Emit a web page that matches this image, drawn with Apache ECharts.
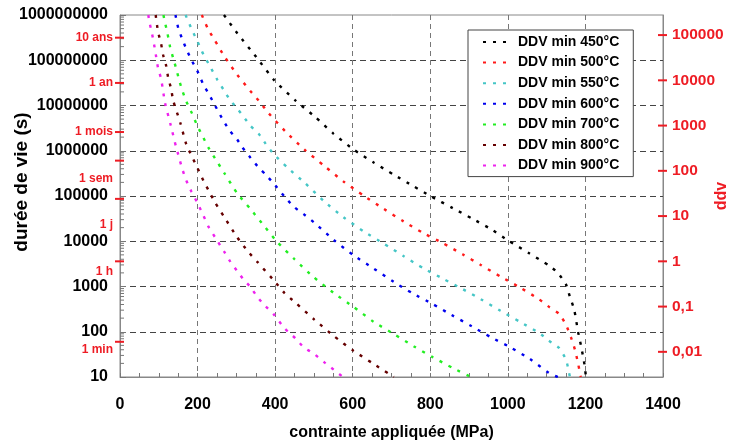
<!DOCTYPE html>
<html><head><meta charset="utf-8">
<script src="https://cdn.jsdelivr.net/npm/echarts@6/dist/echarts.min.js"></script>
<style>html,body{margin:0;padding:0;background:#fff}#c{width:729px;height:441px}</style>
</head><body><div id="c"></div>
<script>
// ---------- data ----------
const seriesNames = ['DDV min 450°C','DDV min 500°C','DDV min 550°C','DDV min 600°C','DDV min 700°C','DDV min 800°C','DDV min 900°C'];

const stress450 = [268,302,354,398,452,504,550,602,654,706,756,800,858,910,956,1002,1054,1106,1129,1150,1160,1171,1181,1188,1194,1199,1201];
const life450   = [1e9,4.0e8,1.1e8,3.6e7,1.3e7,5.5e6,2.4e6,1.07e6,5.5e5,2.95e5,1.66e5,1.0e5,5.4e4,3.1e4,1.86e4,1.02e4,5.5e3,2.9e3,2.0e3,1.1e3,590,310,100,52,28,16,10];

const stress500 = [211,227,245,268,302,336,357,383,426,475,527,576,628,680,731,783,832,884,930,981,1031,1080,1106,1132,1150,1163,1173,1181,1188];
const life500   = [1e9,4.9e8,2.7e8,1.26e8,4.8e7,2.1e7,1.3e7,6.8e6,2.7e6,1.07e6,4.6e5,2.1e5,1.02e5,5.2e4,2.75e4,1.5e4,9.1e3,5.1e3,3.0e3,1.66e3,955,525,355,250,141,74,40,20,10];

const stress550 = [169,186,199,215,230,251,269,284,302,336,357,375,396,431,478,525,576,628,680,731,783,832,884,930,981,1031,1080,1106,1132,1150,1158,1160];
const life550   = [1e9,4.6e8,2.7e8,1.35e8,7.9e7,3.7e7,2.1e7,1.3e7,8.7e6,3.6e6,2.4e6,1.45e6,8.5e5,4.3e5,1.9e5,7.8e4,3.4e4,1.66e4,8.9e3,4.7e3,2.5e3,1.5e3,870,525,290,166,95,63,44,24,12.3,10];

const stress600 = [143,150,160,171,184,199,215,230,245,266,284,302,315,336,357,375,396,426,450,478,504,551,602,654,706,754,806,855,907,956,1005,1057,1106,1129];
const life600   = [1e9,5.2e8,3.0e8,1.78e8,1.02e8,5.9e7,2.9e7,1.74e7,1.0e7,4.7e6,2.7e6,1.78e6,1.2e6,7.1e5,4.3e5,3.0e5,1.9e5,9.3e4,5.6e4,3.7e4,2.45e4,1.07e4,4.9e3,2.5e3,1.26e3,710,410,234,132,76,46,25,12.3,10];

const stress700 = [112,116,122,129,137,145,153,161,171,186,199,215,228,245,269,302,336,375,406,450,499,551,602,654,706,757,806,858,905];
const life700   = [1e9,6.8e8,4.1e8,2.0e8,1.12e8,6.5e7,3.5e7,2.1e7,1.23e7,6.6e6,3.6e6,1.95e6,1.17e6,6.8e5,3.2e5,1.15e5,5.2e4,2.0e4,9.5e3,4.0e3,1.62e3,720,355,166,89,48,27.5,15.8,10];

const stress800 = [92,98,106,111,119,124,132,137,156,171,184,199,215,228,245,269,302,331,354,393,424,450,501,551,602,654,706];
const life800   = [1e9,4.3e8,2.3e8,1.32e8,7.6e7,4.2e7,2.3e7,1.3e7,4.0e6,1.38e6,7.9e5,4.3e5,2.2e5,1.35e5,7.2e4,3.4e4,1.23e4,5.8e3,3.5e3,1.48e3,720,457,186,81,38,19.5,10];

const stress900 = [73,76,82,88,93,98,106,111,116,131,145,150,160,171,184,199,215,228,245,269,284,302,318,336,354,372,396,424,452,473,501,527,551,575];
const life900   = [1e9,6.9e8,4.1e8,2.2e8,1.23e8,6.8e7,3.9e7,2.1e7,1.15e7,3.6e6,1.17e6,8.3e5,4.1e5,2.2e5,1.26e5,7.2e4,3.7e4,2.1e4,1.23e4,5.8e3,3.6e3,2.2e3,1.45e3,980,590,390,245,120,72,46,32,21,14.5,10];

const xTickLabels = [0,200,400,600,800,1000,1200,1400];
const yDecades = [10,100,1000,10000,100000,1000000,10000000,100000000];
const yMinorMultipliers = [2,3,4,5,6,7,8,9];
const timeMarkLabels  = ['10 ans','1 an','1 mois','1 sem','1 j','1 h','1 min'];
const timeMarkSeconds = [315360000,31536000,2592000,604800,86400,3600,60];
const ddvTickValues = [100000,10000,1000,100,10,1,0.1,0.01];
const ddvTickLabels = ['100000','10000','1000','100','10','1','0,1','0,01'];

// ---------- styles ----------
const FONT = '"Liberation Sans", Arial, Helvetica, sans-serif';
const RED = '#ee1c24';
const seriesColors = ['#000000','#ff1a1a','#45c6c6','#0000ee','#22ee22','#660000','#ee22ee'];
const timeMarkLabelShift = [0,0,0,18,26,10,8];

const stressData = [stress450,stress500,stress550,stress600,stress700,stress800,stress900];
const lifeData = [life450,life500,life550,life600,life700,life800,life900];

const lineSeries = seriesNames.map((name,i)=>({
  name, type:'line',
  data: stressData[i].map((x,j)=>[x, lifeData[i][j]]),
  symbol:'none', showSymbol:false, smooth:0.2,
  lineStyle:{color:seriesColors[i], width:2.4, type:[3,7], cap:'butt'},
  itemStyle:{color:seriesColors[i]},
  z:3
}));

const minorTickValues = [];
yDecades.forEach(d=>yMinorMultipliers.forEach(m=>minorTickValues.push([0, d*m])));

const leftMinorTicks = {
  type:'custom', coordinateSystem:'cartesian2d', xAxisIndex:0, yAxisIndex:0, silent:true, z:9,
  data: minorTickValues,
  renderItem:(params, api)=>{
    const p = api.coord([api.value(0), api.value(1)]);
    return {type:'line', shape:{x1:p[0], y1:p[1], x2:p[0]+4, y2:p[1]}, style:{stroke:'#777', lineWidth:1}};
  }
};

const leftMarks = {
  type:'custom', coordinateSystem:'cartesian2d', xAxisIndex:0, yAxisIndex:0, silent:true, z:10,
  data: timeMarkSeconds.map(s=>[0,s]),
  renderItem:(params, api)=>{
    const p = api.coord([api.value(0), api.value(1)]);
    const i = params.dataIndex;
    return {type:'group', children:[
      {type:'line', shape:{x1:p[0]-5, y1:p[1], x2:p[0]+4, y2:p[1]}, style:{stroke:RED, lineWidth:2}},
      {type:'text', x:p[0]-7, y:p[1]+timeMarkLabelShift[i], style:{text:timeMarkLabels[i], fill:RED, font:'bold 12px '+FONT, align:'right', verticalAlign:'middle'}}
    ]};
  }
};
const rightMarks = {
  type:'custom', coordinateSystem:'cartesian2d', xAxisIndex:0, yAxisIndex:1, silent:true, z:10,
  data: ddvTickValues.map(v=>[1400,v]),
  renderItem:(params, api)=>{
    const p = api.coord([api.value(0), api.value(1)]);
    const i = params.dataIndex;
    return {type:'group', children:[
      {type:'line', shape:{x1:p[0]-5, y1:p[1], x2:p[0]+4, y2:p[1]}, style:{stroke:RED, lineWidth:2}},
      {type:'text', x:p[0]+9, y:p[1], style:{text:ddvTickLabels[i], fill:RED, font:'bold 15.5px '+FONT, align:'left', verticalAlign:'middle'}}
    ]};
  }
};

const chart = echarts.init(document.getElementById('c'), null, {renderer:'canvas'});
chart.setOption({
  animation:false,
  backgroundColor:'#fff',
  grid:{left:120, right:66, top:15, bottom:64, show:true, borderColor:'#888', borderWidth:1,
        backgroundColor:'transparent', containLabel:false, outerBoundsMode:'none'},
  legend:{
    data:seriesNames, orient:'vertical', left:468, top:30,
    padding:[5,14,4,14], itemGap:6.6, itemWidth:30, itemHeight:14,
    borderColor:'#444', borderWidth:1, backgroundColor:'#fff',
    itemStyle:{opacity:0},
    textStyle:{fontFamily:FONT, fontWeight:'bold', fontSize:14, color:'#000'}
  },
  xAxis:{
    type:'value', min:0, max:1400, interval:200,
    name:'contrainte appliquée (MPa)', nameLocation:'middle', nameGap:48, nameMoveOverlap:false,
    nameTextStyle:{fontFamily:FONT, fontWeight:'bold', fontSize:16, color:'#000'},
    axisLine:{show:true, onZero:false, lineStyle:{color:'#888'}},
    axisTick:{show:true, inside:true, length:4, lineStyle:{color:'#777'}},
    minorTick:{show:true, splitNumber:4, length:4, lineStyle:{color:'#777'}},
    axisLabel:{fontFamily:FONT, fontWeight:'bold', fontSize:16, color:'#000', margin:20,
      formatter:(v)=> xTickLabels.includes(v) ? String(v) : ''},
    splitLine:{show:true, showMinLine:false, showMaxLine:false, lineStyle:{color:'#777', type:[5,4], width:1}}
  },
  yAxis:[{
    type:'log', logBase:10, min:10, max:1e9, position:'left',
    name:'durée de vie (s)', nameLocation:'middle', nameGap:89, nameMoveOverlap:false,
    nameTextStyle:{fontFamily:FONT, fontWeight:'bold', fontSize:19, color:'#000', padding:[0,0,0,28]},
    axisLine:{show:true, lineStyle:{color:'#888'}},
    axisTick:{show:true, inside:true, length:6, lineStyle:{color:'#777'}},
    minorTick:{show:false},
    axisLabel:{fontFamily:FONT, fontWeight:'bold', fontSize:16, color:'#000', margin:12,
      formatter:(v)=>String(Math.round(v))},
    splitLine:{show:true, showMinLine:false, showMaxLine:false, lineStyle:{color:'#444', type:[6,4], width:1.2}}
  },{
    type:'log', logBase:10, min:0.0027778, max:277777.8, position:'right',
    name:'ddv', nameLocation:'middle', nameGap:51, nameRotate:90, nameMoveOverlap:false,
    nameTextStyle:{fontFamily:FONT, fontWeight:'bold', fontSize:16, color:RED},
    axisLine:{show:true, lineStyle:{color:'#888'}},
    axisTick:{show:false}, minorTick:{show:false}, axisLabel:{show:false}, splitLine:{show:false}
  }],
  series:[...lineSeries, leftMinorTicks, leftMarks, rightMarks]
});
</script></body></html>
